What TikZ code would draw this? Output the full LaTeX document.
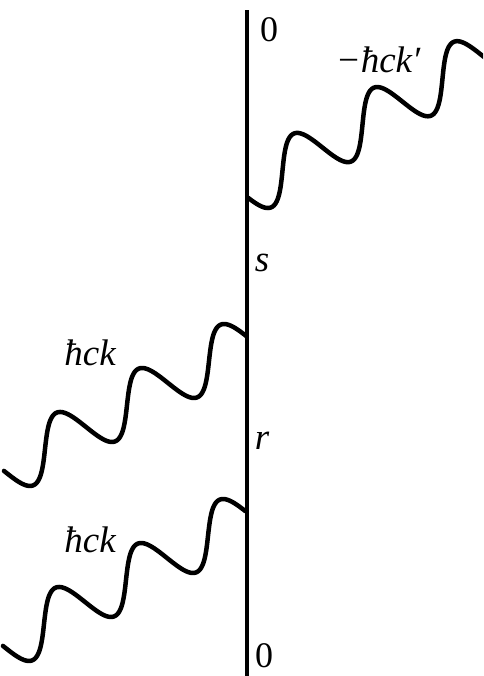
\documentclass[tikz,border=0pt]{standalone}
\usepackage{fontspec}
\setmainfont{Liberation Serif}
\begin{document}
\begin{tikzpicture}[x=1pt,y=-1pt,
  wave/.style={line width=4.5pt,line cap=round,smooth},
  lbl/.style={font=\fontsize{37}{40}\selectfont\itshape,inner sep=0pt},
  num/.style={font=\fontsize{36}{40}\selectfont,inner sep=0pt}]
\useasboundingbox (0,0) rectangle (483,676);
\coordinate (top) at (246.5,10.5);
\coordinate (bot) at (246.5,676);
\draw[line width=4pt] (top) -- (bot);
% left waves
\draw[wave] plot[domain=-17.28:1.414,samples=300,variable=\t]
  ({229.5+13.05*\t-9.5*cos(\t r)},{350-7*\t-25*cos(\t r)});
\draw[wave] plot[domain=-17.28:1.414,samples=300,variable=\t]
  ({228.5+13.05*\t-9.5*cos(\t r)},{525-7*\t-25*cos(\t r)});
% top right wave
\begin{scope}
\clip (0,0) rectangle (483,676);
\draw[wave] plot[domain=-4.46:14.8,samples=300,variable=\t]
  ({302.5+12.73*\t-9.5*cos(\t r)},{159-7.3*\t-25*cos(\t r)});
\end{scope}
\node[lbl] (l1) at (378,60) {−ħck′};
\node[lbl] (l2) at (90,353) {ħck};
\node[lbl] (l3) at (90,540) {ħck};
\node[lbl] (s) at (262,263) {s};
\node[lbl] (r) at (262,441) {r};
\node[num] (z1) at (269,30) {0};
\node[num] (z2) at (264,656) {0};
\end{tikzpicture}
\end{document}
